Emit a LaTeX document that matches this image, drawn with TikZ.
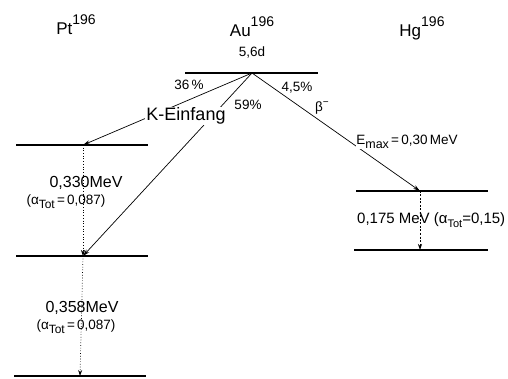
\documentclass[tikz,border=0pt]{standalone}
\usepackage{fontspec}
\setmainfont{Liberation Sans}
\usetikzlibrary{arrows.meta}
\begin{document}
\begin{tikzpicture}[x=1pt,y=-1pt,
  level/.style={line width=1.3pt},
  decay/.style={line width=0.7pt,-{Stealth[length=7pt,width=4pt]}},
  gamma/.style={line width=0.7pt,dotted,-{Stealth[length=6pt,width=4pt]}},
  title/.style={font=\fontsize{17}{19}\selectfont,inner sep=1pt},
  txt/.style={font=\fontsize{16}{18}\selectfont,inner sep=1pt},
  small/.style={font=\fontsize{13.5}{15}\selectfont,inner sep=1pt}]
\useasboundingbox (0,0) rectangle (508,379);
% coordinates
\coordinate (au) at (252,73);
\coordinate (auL) at (185,73);
\coordinate (auR) at (318,73);
\coordinate (pt1) at (83,145);
\coordinate (pt1L) at (16,145);
\coordinate (pt1R) at (148,145);
\coordinate (pt2) at (83,256);
\coordinate (pt2L) at (16,256);
\coordinate (pt2R) at (148,256);
\coordinate (pt3) at (80,376);
\coordinate (pt3L) at (14,376);
\coordinate (pt3R) at (146,376);
\coordinate (hg1) at (420,191);
\coordinate (hg1L) at (356,191);
\coordinate (hg1R) at (488,191);
\coordinate (hg2) at (420,250);
\coordinate (hg2L) at (354,250);
\coordinate (hg2R) at (488,250);
% levels
\draw[level] (auL) -- (auR);
\draw[level] (pt1L) -- (pt1R);
\draw[level] (pt2L) -- (pt2R);
\draw[level] (pt3L) -- (pt3R);
\draw[level] (hg1L) -- (hg1R);
\draw[level] (hg2L) -- (hg2R);
% decays
\draw[decay] (au) -- (pt1);
\draw[decay] (au) -- (pt2);
\draw[decay] (au) -- (hg1);
% gammas
\draw[gamma] (pt1) -- (pt2);
\draw[gamma] (pt2) -- (pt3);
\draw[line width=0.7pt,dash pattern=on 2pt off 1.5pt,-{Stealth[length=6pt,width=4pt]}] (hg1) -- (hg2);
% titles
\node[title] (tpt) at (76,25) {Pt\raisebox{1.1ex}{\fontsize{14}{15}\selectfont 196}};
\node[title] (tau) at (252,27) {Au\raisebox{1.1ex}{\fontsize{14}{15}\selectfont 196}};
\node[title] (thg) at (422,28) {Hg\raisebox{1.1ex}{\fontsize{14}{15}\selectfont 196}};
\node[small] (half) at (252,52) {5,6d};
% branch labels
\node[small] (p36) at (189,85) {36\,\%};
\node[small] (p45) at (297,88) {4,5\%};
\node[small] (p59) at (248,105) {59\%};
\node[font=\fontsize{18}{20}\selectfont,inner sep=1pt,fill=white] (kein) at (186,116) {K-Einfang};
\node[small] (beta) at (322,108) {β\raisebox{0.8ex}{\fontsize{10}{11}\selectfont −}};
\node[small,fill=white,inner sep=0.5pt] (emax) at (407,142) {E\raisebox{-0.5ex}{\fontsize{12.5}{13}\selectfont max}\,=\,0,30\,MeV};
% gamma labels
\node[txt] (e330) at (86,183) {0,330MeV};
\node[small] (a330) at (66,202) {(α\raisebox{-0.6ex}{\fontsize{12}{13}\selectfont Tot}\,=\,0,087)};
\node[txt] (e358) at (82,308) {0,358MeV};
\node[small] (a358) at (76,327) {(α\raisebox{-0.6ex}{\fontsize{12}{13}\selectfont Tot}\,=\,0,087)};
\node[font=\fontsize{15}{17}\selectfont,inner sep=1pt,anchor=west] (e175) at (356,220) {0,175 MeV (α\raisebox{-0.6ex}{\fontsize{11}{12}\selectfont Tot}=0,15)};
\end{tikzpicture}
\end{document}
